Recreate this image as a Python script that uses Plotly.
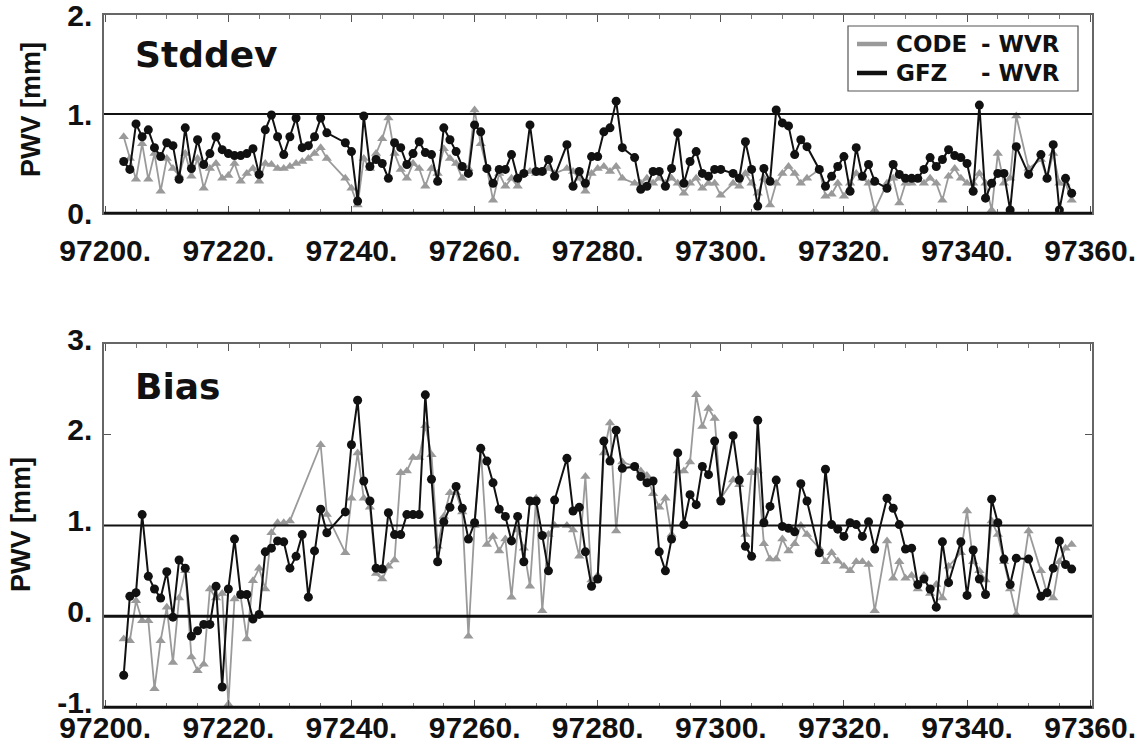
import plotly.graph_objects as go

# ---------------- data ----------------
std_days = [
    97203, 97204, 97205, 97206, 97207, 97208, 97209, 97210, 97211, 97212,
    97213, 97214, 97215, 97216, 97217, 97218, 97219, 97220, 97221, 97222,
    97223, 97224, 97225, 97226, 97227, 97228, 97229, 97230, 97231, 97232,
    97233, 97234, 97235, 97236, 97239, 97240, 97241, 97242, 97243, 97244,
    97245, 97246, 97247, 97248, 97249, 97250, 97251, 97252, 97253, 97254,
    97255, 97256, 97257, 97258, 97259, 97260, 97261, 97262, 97263, 97264,
    97265, 97266, 97267, 97268, 97269, 97270, 97271, 97272, 97273, 97275,
    97276, 97277, 97278, 97279, 97280, 97281, 97282, 97283, 97284, 97286,
    97287, 97288, 97289, 97290, 97291, 97292, 97293, 97294, 97295, 97296,
    97297, 97298, 97299, 97300, 97302, 97303, 97304, 97305, 97306, 97307,
    97308, 97309, 97310, 97311, 97312, 97313, 97314, 97316, 97317, 97318,
    97319, 97320, 97321, 97322, 97323, 97324, 97325, 97327, 97328, 97329,
    97330, 97331, 97332, 97333, 97334, 97335, 97336, 97337, 97338, 97339,
    97340, 97341, 97342, 97343, 97344, 97345, 97346, 97347, 97348, 97350,
    97352, 97353, 97354, 97355, 97356, 97357,
]
std_gfz = [
    0.52, 0.44, 0.90, 0.77, 0.84, 0.66, 0.57, 0.71, 0.68, 0.34,
    0.86, 0.45, 0.74, 0.49, 0.60, 0.77, 0.64, 0.60, 0.58, 0.58,
    0.60, 0.65, 0.39, 0.84, 0.99, 0.77, 0.59, 0.77, 0.96, 0.66,
    0.68, 0.77, 0.96, 0.81, 0.71, 0.62, 0.12, 0.98, 0.47, 0.54,
    0.50, 0.35, 0.71, 0.66, 0.49, 0.60, 0.72, 0.61, 0.59, 0.32,
    0.86, 0.74, 0.62, 0.47, 0.40, 0.89, 0.82, 0.45, 0.30, 0.44,
    0.44, 0.59, 0.35, 0.40, 0.89, 0.42, 0.42, 0.54, 0.37, 0.69,
    0.27, 0.42, 0.30, 0.57, 0.57, 0.82, 0.86, 1.13, 0.66, 0.56,
    0.24, 0.27, 0.42, 0.42, 0.27, 0.45, 0.81, 0.30, 0.52, 0.62,
    0.40, 0.37, 0.44, 0.44, 0.40, 0.35, 0.72, 0.44, 0.07, 0.45,
    0.32, 1.04, 0.91, 0.88, 0.59, 0.74, 0.67, 0.44, 0.27, 0.37,
    0.47, 0.57, 0.22, 0.66, 0.37, 0.49, 0.32, 0.25, 0.49, 0.39,
    0.35, 0.35, 0.35, 0.44, 0.56, 0.47, 0.54, 0.64, 0.58, 0.56,
    0.50, 0.22, 1.09, 0.15, 0.30, 0.40, 0.40, 0.03, 0.67, 0.39,
    0.59, 0.35, 0.69, 0.03, 0.35, 0.20,
]
std_code = [
    0.77, 0.55, 0.34, 0.70, 0.34, 0.60, 0.22, 0.55, 0.45, 0.38,
    0.60, 0.37, 0.55, 0.25, 0.45, 0.50, 0.35, 0.38, 0.50, 0.32,
    0.40, 0.45, 0.32, 0.50, 0.49, 0.45, 0.45, 0.47, 0.50, 0.52,
    0.55, 0.60, 0.66, 0.55, 0.35, 0.25, 0.08, 0.55, 0.45, 0.60,
    0.75, 0.96, 0.60, 0.44, 0.35, 0.50, 0.45, 0.27, 0.45, 0.40,
    0.65, 0.55, 0.50, 0.35, 0.45, 1.04, 0.70, 0.45, 0.13, 0.40,
    0.27, 0.35, 0.27, 0.40, 0.42, 0.40, 0.42, 0.45, 0.40, 0.45,
    0.42, 0.35, 0.22, 0.40, 0.45, 0.47, 0.42, 0.47, 0.35, 0.30,
    0.30, 0.35, 0.30, 0.35, 0.30, 0.35, 0.30, 0.20, 0.30, 0.35,
    0.25, 0.30, 0.30, 0.18, 0.30, 0.27, 0.40, 0.30, 0.20, 0.35,
    0.08, 0.30, 0.40, 0.47, 0.40, 0.30, 0.35, 0.44, 0.17, 0.19,
    0.30, 0.17, 0.30, 0.40, 0.35, 0.30, 0.03, 0.30, 0.35, 0.10,
    0.30, 0.30, 0.34, 0.30, 0.35, 0.30, 0.13, 0.37, 0.45, 0.35,
    0.30, 0.30, 0.40, 0.30, 0.03, 0.60, 0.30, 0.35, 0.98, 0.45,
    0.54, 0.35, 0.60, 0.30, 0.30, 0.13,
]

bias_gfz_days = [
    97203, 97204, 97205, 97206, 97207, 97208, 97209, 97210, 97211, 97212,
    97213, 97214, 97215, 97216, 97217, 97218, 97219, 97220, 97221, 97222,
    97223, 97224, 97225, 97226, 97227, 97228, 97229, 97230, 97231, 97232,
    97233, 97234, 97235, 97236, 97239, 97240, 97241, 97242, 97243, 97244,
    97245, 97246, 97247, 97248, 97249, 97250, 97251, 97252, 97253, 97254,
    97255, 97256, 97257, 97258, 97259, 97260, 97261, 97262, 97263, 97264,
    97265, 97266, 97267, 97268, 97269, 97270, 97271, 97272, 97273, 97275,
    97276, 97277, 97278, 97279, 97280, 97281, 97282, 97283, 97284, 97286,
    97287, 97288, 97289, 97290, 97291, 97292, 97293, 97294, 97295, 97296,
    97297, 97298, 97299, 97300, 97302, 97303, 97304, 97305, 97306, 97307,
    97308, 97309, 97310, 97311, 97312, 97313, 97314, 97316, 97317, 97318,
    97319, 97320, 97321, 97322, 97323, 97324, 97325, 97327, 97328, 97329,
    97330, 97331, 97332, 97333, 97334, 97335, 97336, 97337, 97339, 97340,
    97341, 97342, 97343, 97344, 97345, 97346, 97347, 97348, 97350, 97352,
    97353, 97354, 97355, 97356, 97357,
]
bias_gfz = [
    -0.65, 0.22, 0.26, 1.12, 0.44, 0.30, 0.20, 0.49, -0.01, 0.62,
    0.53, -0.22, -0.16, -0.09, -0.09, 0.33, -0.78, 0.30, 0.85, 0.24,
    0.24, -0.03, 0.02, 0.71, 0.75, 0.83, 0.82, 0.53, 0.66, 0.90,
    0.21, 0.72, 1.18, 0.92, 1.15, 1.89, 2.38, 1.49, 1.27, 0.53,
    0.52, 1.14, 0.90, 0.90, 1.12, 1.12, 1.12, 2.44, 1.51, 0.60,
    1.04, 1.20, 1.43, 1.19, 0.85, 1.03, 1.85, 1.71, 1.47, 1.18,
    1.10, 0.83, 1.10, 0.60, 1.27, 1.27, 0.89, 0.50, 1.28, 1.74,
    1.16, 1.20, 0.71, 0.33, 0.41, 1.93, 1.71, 2.05, 1.63, 1.65,
    1.54, 1.47, 1.49, 0.71, 0.50, 0.85, 1.80, 1.01, 1.34, 1.23,
    1.65, 1.56, 1.93, 1.27, 1.99, 1.50, 0.77, 0.66, 2.16, 1.03,
    1.21, 1.50, 0.99, 0.97, 0.93, 1.46, 1.27, 0.70, 1.62, 1.01,
    0.96, 0.88, 1.03, 1.01, 0.88, 1.04, 0.74, 1.30, 1.19, 1.01,
    0.74, 0.75, 0.35, 0.41, 0.30, 0.10, 0.82, 0.37, 0.82, 0.23,
    0.73, 0.41, 0.24, 1.29, 1.03, 0.63, 0.35, 0.64, 0.63, 0.22,
    0.26, 0.53, 0.83, 0.57, 0.52,
]

bias_code_days = [
    97203, 97204, 97205, 97206, 97207, 97208, 97209, 97210, 97211, 97212,
    97213, 97214, 97215, 97216, 97217, 97218, 97219, 97220, 97221, 97222,
    97223, 97224, 97225, 97226, 97227, 97228, 97229, 97230, 97235, 97236,
    97239, 97240, 97241, 97242, 97243, 97244, 97245, 97246, 97247, 97248,
    97249, 97250, 97251, 97252, 97253, 97254, 97255, 97256, 97257, 97258,
    97259, 97260, 97261, 97262, 97263, 97264, 97265, 97266, 97267, 97268,
    97269, 97270, 97271, 97272, 97273, 97275, 97276, 97277, 97278, 97279,
    97280, 97281, 97282, 97283, 97284, 97286, 97287, 97288, 97289, 97290,
    97291, 97292, 97293, 97294, 97295, 97296, 97297, 97298, 97299, 97300,
    97302, 97303, 97304, 97305, 97306, 97307, 97308, 97309, 97310, 97311,
    97312, 97313, 97314, 97316, 97317, 97318, 97319, 97320, 97321, 97322,
    97323, 97324, 97325, 97327, 97328, 97329, 97330, 97331, 97332, 97333,
    97334, 97335, 97336, 97337, 97339, 97340, 97341, 97342, 97343, 97344,
    97345, 97346, 97347, 97348, 97350, 97352, 97353, 97354, 97355, 97356,
    97357,
]
bias_code = [
    -0.25, -0.27, 0.17, -0.05, -0.05, -0.80, -0.27, 0.10, -0.51, 0.20,
    0.50, -0.45, -0.60, -0.53, 0.30, 0.20, 0.25, -0.97, 0.19, 0.22,
    -0.25, 0.39, 0.53, 0.30, 0.92, 1.03, 1.03, 1.05, 1.89, 1.12,
    0.70, 1.30, 1.80, 1.30, 1.20, 0.47, 0.41, 0.55, 0.62, 1.58,
    1.60, 1.75, 1.75, 2.10, 1.78, 0.77, 1.10, 1.36, 1.36, 1.15,
    -0.22, 1.00, 1.85, 0.79, 0.88, 0.72, 0.85, 0.21, 0.95, 0.75,
    0.33, 1.30, 0.06, 0.90, 1.00, 1.00, 0.95, 0.66, 1.54, 0.40,
    0.45, 1.80, 2.13, 0.94, 1.70, 1.65, 1.60, 1.55, 1.35, 1.20,
    1.30, 0.90, 1.60, 1.60, 1.70, 2.44, 2.09, 2.29, 2.18, 1.30,
    1.50, 1.45, 0.90, 1.58, 1.60, 0.80, 0.63, 0.63, 0.85, 0.72,
    0.80, 1.00, 0.90, 0.75, 0.60, 0.70, 0.61, 0.55, 0.50, 0.60,
    0.60, 0.57, 0.06, 0.83, 0.42, 0.60, 0.42, 0.45, 0.30, 0.45,
    0.25, 0.35, 0.20, 0.55, 0.70, 1.16, 0.60, 0.50, 0.40, 1.05,
    0.90, 0.60, 0.30, 0.02, 0.94, 0.50, 0.25, 0.20, 0.60, 0.75,
    0.79,
]

x_tickvals = [97200, 97220, 97240, 97260, 97280, 97300, 97320, 97340, 97360]
x_ticktext = ["97200.", "97220.", "97240.", "97260.", "97280.",
              "97300.", "97320.", "97340.", "97360."]
std_tickvals = [0, 1, 2]
std_ticktext = ["0.", "1.", "2."]
bias_tickvals = [-1, 0, 1, 2, 3]
bias_ticktext = ["-1.", "0.", "1.", "2.", "3."]
series_names = ["CODE - WVR", "GFZ   - WVR"]

assert len(std_days) == len(std_gfz) == len(std_code)
assert len(bias_gfz_days) == len(bias_gfz)
assert len(bias_code_days) == len(bias_code)

# ---------------- styling ----------------
W, H = 1144, 746
L, R, T, B = 104, 52, 15, 39
PW, PH = W - L - R, H - T - B


def px(xp):
    return (xp - L) / PW


def py(yp):
    return (H - B - yp) / PH


GRAY = "#9a9a9a"
BLACK = "#111111"
TICKFONT = dict(family="Liberation Sans, Arial, sans-serif", size=30,
                color=BLACK, weight="bold")
LABFONT = dict(family="DejaVu Sans, sans-serif", size=36, color=BLACK,
               weight="bold")

fig = go.Figure()


def add_pair(days_c, vals_c, days_g, vals_g, xa, ya):
    fig.add_trace(go.Scatter(
        x=days_c, y=vals_c, mode="lines+markers", name=series_names[0],
        xaxis=xa, yaxis=ya, showlegend=False, cliponaxis=False,
        line=dict(color=GRAY, width=1.8),
        marker=dict(symbol="triangle-up", size=9, color=GRAY)))
    fig.add_trace(go.Scatter(
        x=days_g, y=vals_g, mode="lines+markers", name=series_names[1],
        xaxis=xa, yaxis=ya, showlegend=False, cliponaxis=False,
        line=dict(color=BLACK, width=2),
        marker=dict(symbol="circle", size=9, color=BLACK)))


add_pair(std_days, std_code, std_days, std_gfz, "x", "y")
add_pair(bias_code_days, bias_code, bias_gfz_days, bias_gfz, "x2", "y2")

xcommon = dict(
    range=[97199.8, 97360.3], tickmode="array", tickvals=x_tickvals,
    ticktext=x_ticktext, ticks="inside", ticklen=7, tickwidth=1.2,
    tickcolor="#555", showline=True, linecolor="#666", linewidth=1.5,
    mirror="ticks", showgrid=False, zeroline=False, tickfont=TICKFONT,
    automargin=False, ticklabeloverflow="allow",
    minor=dict(tickmode="linear", tick0=97200, dtick=5, ticks="inside",
               ticklen=4, tickcolor="#777", showgrid=False),
)
ycommon = dict(
    tickmode="array", ticks="inside", ticklen=7, tickwidth=1.2,
    tickcolor="#555", showline=True, linecolor="#666", linewidth=1.5,
    mirror="ticks", showgrid=False, zeroline=False, tickfont=TICKFONT,
    ticklabelstandoff=4, automargin=False, ticklabeloverflow="allow",
)

top_bottom = py(213)
bot_top = py(344)

fig.update_layout(
    template="none",
    width=W, height=H,
    margin=dict(l=L, r=R, t=T, b=B, pad=0, autoexpand=False),
    paper_bgcolor="white", plot_bgcolor="white",
    xaxis=dict(xcommon, anchor="y", domain=[0, 1], ticklabelstandoff=10),
    yaxis=dict(ycommon, anchor="x", domain=[top_bottom, 1], range=[0, 2],
               tickvals=std_tickvals, ticktext=std_ticktext),
    xaxis2=dict(xcommon, anchor="y2", domain=[0, 1], ticklabelstandoff=-7),
    yaxis2=dict(ycommon, anchor="x2", domain=[0, bot_top], range=[-1, 3],
                tickvals=bias_tickvals, ticktext=bias_ticktext,
                ticklabelshift=-5),
    showlegend=False,
)

shapes = [
    # reference lines
    dict(type="line", xref="x domain", yref="y", x0=0, x1=1, y0=1, y1=1,
         line=dict(color=BLACK, width=2)),
    dict(type="line", xref="x2 domain", yref="y2", x0=0, x1=1, y0=1, y1=1,
         line=dict(color=BLACK, width=2)),
    dict(type="line", xref="x2 domain", yref="y2", x0=0, x1=1, y0=0, y1=0,
         line=dict(color=BLACK, width=3)),
    # darker bottom frame edges
    dict(type="line", xref="x domain", yref="y domain", x0=0, x1=1, y0=0,
         y1=0, line=dict(color=BLACK, width=2.5)),
    dict(type="line", xref="x2 domain", yref="y2 domain", x0=0, x1=1, y0=0,
         y1=0, line=dict(color=BLACK, width=2.5)),
    # legend box
    dict(type="rect", xref="paper", yref="paper", x0=px(848), x1=px(1078),
         y0=py(91), y1=py(26), line=dict(color="#555", width=1.2),
         fillcolor="white", layer="above"),
    dict(type="line", xref="paper", yref="paper", x0=px(857), x1=px(887),
         y0=py(44), y1=py(44), line=dict(color=GRAY, width=4.5),
         layer="above"),
    dict(type="line", xref="paper", yref="paper", x0=px(857), x1=px(887),
         y0=py(73), y1=py(73), line=dict(color=BLACK, width=4.5),
         layer="above"),
]

LEGFONT = dict(family="DejaVu Sans, sans-serif", size=23, color=BLACK,
               weight="bold")
YTFONT = dict(family="Liberation Sans, Arial, sans-serif", size=27,
              color=BLACK, weight="bold")
annotations = [
    dict(text="Stddev", xref="paper", yref="paper", x=px(133), y=py(54),
         xanchor="left", yanchor="middle", showarrow=False, font=LABFONT),
    dict(text="Bias", xref="paper", yref="paper", x=px(133), y=py(386),
         xanchor="left", yanchor="middle", showarrow=False, font=LABFONT),
    dict(text="PWV [mm]", xref="paper", yref="paper", x=px(31), y=py(110),
         xanchor="center", yanchor="middle", textangle=-90, showarrow=False,
         font=YTFONT),
    dict(text="PWV [mm]", xref="paper", yref="paper", x=px(21), y=py(525),
         xanchor="center", yanchor="middle", textangle=-90, showarrow=False,
         font=YTFONT),
    dict(text="CODE", xref="paper", yref="paper", x=px(894), y=py(44),
         xanchor="left", yanchor="middle", showarrow=False, font=LEGFONT),
    dict(text="- WVR", xref="paper", yref="paper", x=px(979), y=py(44),
         xanchor="left", yanchor="middle", showarrow=False, font=LEGFONT),
    dict(text="GFZ", xref="paper", yref="paper", x=px(894), y=py(73),
         xanchor="left", yanchor="middle", showarrow=False, font=LEGFONT),
    dict(text="- WVR", xref="paper", yref="paper", x=px(979), y=py(73),
         xanchor="left", yanchor="middle", showarrow=False, font=LEGFONT),
]
fig.update_layout(shapes=shapes, annotations=annotations)

fig.write_html(
    "out.html",
    config={"displayModeBar": False},
    post_script="document.body.style.margin='0px';"
                "document.body.style.overflow='hidden';",
)
